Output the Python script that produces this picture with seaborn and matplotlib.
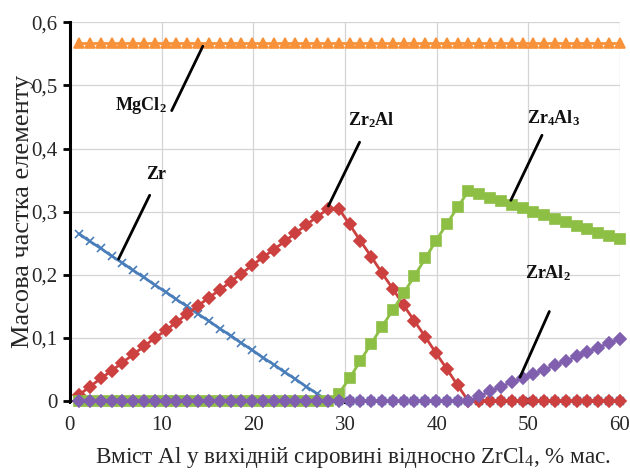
import numpy as np
import pandas as pd
import seaborn as sns
import matplotlib
matplotlib.use("Agg")
import matplotlib.pyplot as plt
import matplotlib.ticker as ticker

# Al content in the raw material, % mass (51 calculation points)
al_content = [1.0, 2.18, 3.36, 4.54, 5.72, 6.9, 8.08, 9.26, 10.44, 11.62,
              12.8, 13.98, 15.16, 16.34, 17.52, 18.7, 19.88, 21.06, 22.24, 23.42,
              24.6, 25.78, 26.96, 28.14, 29.32, 30.5, 31.68, 32.86, 34.04, 35.22,
              36.4, 37.58, 38.76, 39.94, 41.12, 42.3, 43.48, 44.66, 45.84, 47.02,
              48.2, 49.38, 50.56, 51.74, 52.92, 54.1, 55.28, 56.46, 57.64, 58.82,
              60.0]

zr = [0.265, 0.253, 0.242, 0.230, 0.219, 0.207, 0.196, 0.184, 0.173, 0.161,
      0.150, 0.138, 0.127, 0.115, 0.104, 0.092, 0.081, 0.069, 0.058, 0.046,
      0.035, 0.023, 0.012, 0.000, 0.0, 0.0, 0.0, 0.0, 0.0, 0.0,
      0.0, 0.0, 0.0, 0.0, 0.0, 0.0, 0.0, 0.0, 0.0, 0.0,
      0.0, 0.0, 0.0, 0.0, 0.0, 0.0, 0.0, 0.0, 0.0, 0.0,
      0.0]

zr2al = [0.010, 0.023, 0.036, 0.048, 0.061, 0.074, 0.087, 0.100, 0.112, 0.125,
         0.138, 0.151, 0.164, 0.176, 0.189, 0.202, 0.215, 0.228, 0.240, 0.253,
         0.266, 0.279, 0.292, 0.304, 0.305, 0.280, 0.254, 0.229, 0.203, 0.178,
         0.152, 0.127, 0.102, 0.076, 0.051, 0.025, 0.000, 0.0, 0.0, 0.0,
         0.0, 0.0, 0.0, 0.0, 0.0, 0.0, 0.0, 0.0, 0.0, 0.0,
         0.0]

zr4al3 = [0.0, 0.0, 0.0, 0.0, 0.0, 0.0, 0.0, 0.0, 0.0, 0.0,
          0.0, 0.0, 0.0, 0.0, 0.0, 0.0, 0.0, 0.0, 0.0, 0.0,
          0.0, 0.0, 0.0, 0.0, 0.012, 0.036, 0.064, 0.091, 0.118, 0.144,
          0.171, 0.198, 0.226, 0.254, 0.281, 0.307, 0.333, 0.328, 0.322, 0.317,
          0.311, 0.306, 0.300, 0.295, 0.289, 0.284, 0.278, 0.273, 0.267, 0.262,
          0.256]

zral2 = [0.0, 0.0, 0.0, 0.0, 0.0, 0.0, 0.0, 0.0, 0.0, 0.0,
         0.0, 0.0, 0.0, 0.0, 0.0, 0.0, 0.0, 0.0, 0.0, 0.0,
         0.0, 0.0, 0.0, 0.0, 0.0, 0.0, 0.0, 0.0, 0.0, 0.0,
         0.0, 0.0, 0.0, 0.0, 0.0, 0.0, 0.0, 0.008, 0.016, 0.023,
         0.030, 0.036, 0.043, 0.050, 0.057, 0.064, 0.071, 0.078, 0.085, 0.092,
         0.099]

mgcl2 = [0.567, 0.567, 0.567, 0.567, 0.567, 0.567, 0.567, 0.567, 0.567, 0.567,
         0.567, 0.567, 0.567, 0.567, 0.567, 0.567, 0.567, 0.567, 0.567, 0.567,
         0.567, 0.567, 0.567, 0.567, 0.567, 0.567, 0.567, 0.567, 0.567, 0.567,
         0.567, 0.567, 0.567, 0.567, 0.567, 0.567, 0.567, 0.567, 0.567, 0.567,
         0.567, 0.567, 0.567, 0.567, 0.567, 0.567, 0.567, 0.567, 0.567, 0.567,
         0.567]

x_ticks = [0, 10, 20, 30, 40, 50, 60]
y_ticks = [0, 0.1, 0.2, 0.3, 0.4, 0.5, 0.6]

sns.set_theme(style="whitegrid")
plt.rcParams['font.family'] = ['Liberation Serif', 'DejaVu Serif']
plt.rcParams['mathtext.fontset'] = 'custom'
plt.rcParams['mathtext.rm'] = 'Liberation Serif'
plt.rcParams['mathtext.it'] = 'Liberation Serif'
plt.rcParams['mathtext.bf'] = 'Liberation Serif:bold'

# series: (values, colour, marker, size)
series = [
    (zr, "#4A7EBB", "x", 6),
    (zr2al, "#CC4040", "D", 6),
    (zr4al3, "#8DBF45", "s", 6.5),
    (zral2, "#7F5FAE", "D", 6),
    (mgcl2, "#F7923A", "^", 7.5),
]

fig, ax = plt.subplots(figsize=(6.3, 4.72), dpi=100)
plt.subplots_adjust(left=0.111, right=0.984, top=0.953, bottom=0.15)

for vals, col, mk, ms in series:
    df = pd.DataFrame({"x": al_content, "y": vals})
    sns.lineplot(data=df, x="x", y="y", ax=ax, color=col, lw=2,
                 marker=mk, markersize=ms, markeredgecolor=col,
                 markeredgewidth=1.2, clip_on=False, zorder=3)

ax.set_xlim(0, 60)
ax.set_ylim(0, 0.6)
ax.set_xticks(x_ticks)
ax.set_yticks(y_ticks)
ax.xaxis.set_major_formatter(ticker.FuncFormatter(lambda v, p: f"{v:g}"))
ax.yaxis.set_major_formatter(ticker.FuncFormatter(
    lambda v, p: "0" if v == 0 else f"{v:.1f}".replace(".", ",")))

ax.grid(True, color="#D4D4D4", lw=0.9)
for s in ["top", "right"]:
    ax.spines[s].set_visible(False)
ax.spines["left"].set_color("black")
ax.spines["left"].set_linewidth(2.2)
ax.spines["bottom"].set_color("black")
ax.spines["bottom"].set_linewidth(1.5)
ax.tick_params(axis="y", direction="out", length=5, width=2, color="black",
               labelsize=15, pad=4, left=True)
ax.tick_params(axis="x", direction="inout", length=5, width=1.5, color="black",
               labelsize=15, pad=8, bottom=True)

ax.set_xlabel("Вміст Al у вихідній сировині відносно ZrCl$_4$, % мас.",
              fontsize=16.7, labelpad=7)
ax.xaxis.set_label_coords(0.515, -0.115)
ax.set_ylabel("Масова частка елементу", fontsize=19, labelpad=3)
ax.yaxis.set_label_coords(-0.066, 0.5)

# leader labels
labels = [
    (r"MgCl$_\mathbf{2}$", (7.75, 0.468), (11.1, 0.46), (14.5, 0.562)),
    (r"Zr", (9.4, 0.359), (8.7, 0.326), (5.3, 0.225)),
    (r"Zr$_\mathbf{2}$Al", (32.9, 0.445), (31.6, 0.41), (28.2, 0.309)),
    (r"Zr$_\mathbf{4}$Al$_\mathbf{3}$", (52.7, 0.448), (51.5, 0.421), (48.1, 0.318)),
    (r"ZrAl$_\mathbf{2}$", (52.2, 0.203), (52.3, 0.142), (49.1, 0.038)),
]
for txt, tpos, p0, p1 in labels:
    ax.text(tpos[0], tpos[1], txt, ha="center", va="center",
            fontsize=13, fontweight="bold", color="#111111", zorder=5)
    ax.annotate("", xy=p1, xytext=p0,
                arrowprops=dict(arrowstyle="-", color="black", lw=2,
                                shrinkA=0, shrinkB=0), zorder=5)

plt.savefig("out.png", dpi=100)
plt.close()
